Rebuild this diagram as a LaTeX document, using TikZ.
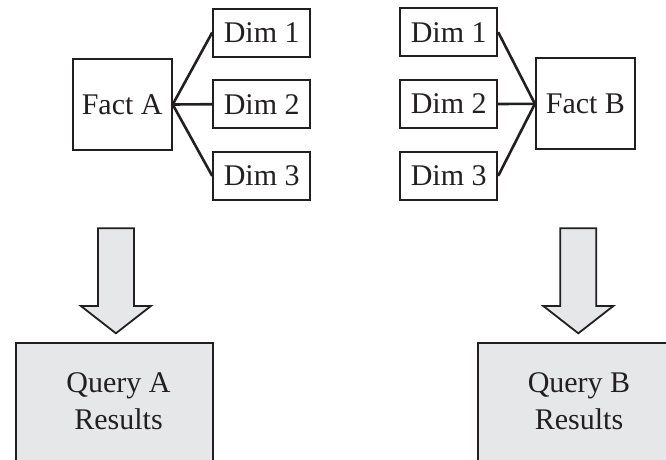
\documentclass[tikz,border=0pt]{standalone}
\usepackage{fontspec}
\setmainfont{Liberation Serif}
\definecolor{panelgray}{HTML}{E6E7E8}
\definecolor{inkline}{HTML}{231F20}
\begin{document}
\begin{tikzpicture}[x=1pt,y=-1pt,
  every node/.style={font=\fontsize{30}{37}\selectfont, text=inkline, inner sep=0pt},
  factbox/.style={draw=inkline, line width=2pt, minimum width=99pt, minimum height=91pt},
  dimbox/.style={draw=inkline, line width=2pt, minimum width=97pt, minimum height=48pt},
  link/.style={draw=inkline, line width=2.6pt},
  bigarrow/.style={draw=inkline, fill=panelgray, line width=1.8pt, line join=miter},
  resultbox/.style={draw=inkline, fill=panelgray, line width=2pt}]
\useasboundingbox (0,0) rectangle (666,459);
\clip (0,0) rectangle (666,459);

% left star schema
\node[factbox] (factA) at (122.2,104.5) {Fact A};
\node[dimbox] (dimA1) at (261.7,32.5) {Dim 1};
\node[dimbox] (dimA2) at (261.7,104.2) {Dim 2};
\node[dimbox] (dimA3) at (261.7,175.9) {Dim 3};
\foreach \d in {dimA1,dimA2,dimA3} \draw[link] (factA.east) -- (\d.west);

% right star schema
\node[factbox] (factB) at (585.4,103.8) {Fact B};
\node[dimbox] (dimB1) at (448.7,32.2) {Dim 1};
\node[dimbox] (dimB2) at (448.7,104) {Dim 2};
\node[dimbox] (dimB3) at (448.7,175.9) {Dim 3};
\foreach \d in {dimB1,dimB2,dimB3} \draw[link] (factB.west) -- (\d.east);

% block arrows leading to the result panels
\coordinate (arrA) at (115.9,228.3);
\coordinate (arrB) at (578.3,228.3);
\foreach \a in {arrA,arrB}
  \draw[bigarrow] (\a) ++(-18,0) -- ++(36,0) -- ++(0,77.7) -- ++(17,0)
    -- ++(-35,27.3) -- ++(-35,-27.3) -- ++(17,0) -- cycle;

% result panels, running past the lower edge
\draw[resultbox] (15.7,343.3) rectangle (213.3,480);
\draw[resultbox] (478.3,343.3) rectangle (676,480);
\node[align=center] (resA) at (118.5,401) {Query A\\Results};
\node[align=center] (resB) at (579,401) {Query B\\Results};
\end{tikzpicture}
\end{document}
